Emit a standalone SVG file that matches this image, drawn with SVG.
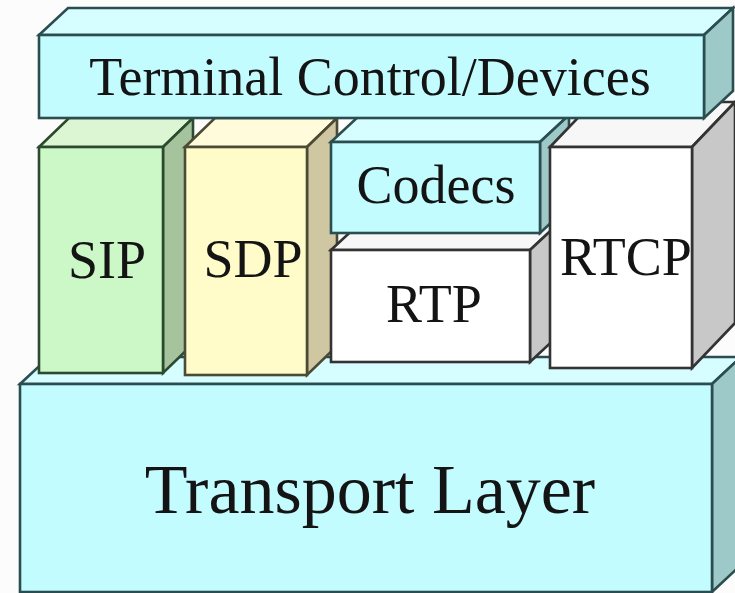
<svg xmlns="http://www.w3.org/2000/svg" width="735" height="593" viewBox="0 0 735 593">
  <style>
    .edge { stroke-width: 2.6; stroke-linejoin: miter; }
    .cyan .front { fill: #c3fcff; }
    .cyan .top { fill: #d6fdff; }
    .cyan .side { fill: #9ec9c9; }
    .cyan path, .cyan rect { stroke: #2b4d4f; }
    .green .front { fill: #ccf8c8; }
    .green .top { fill: #dcf6d4; }
    .green .side { fill: #a5c49e; }
    .green path, .green rect { stroke: #2c4a2e; }
    .yellow .front { fill: #fffcca; }
    .yellow .top { fill: #fffbdb; }
    .yellow .side { fill: #cfc6a2; }
    .yellow path, .yellow rect { stroke: #4b4a34; }
    .white .front { fill: #ffffff; }
    .white .top { fill: #f7f7f7; }
    .white .side { fill: #c8c8c8; }
    .white path, .white rect { stroke: #333333; }
    text { font-family: "Liberation Serif", "Times New Roman", serif; fill: #141414; text-anchor: middle; }
    .lbl { font-size: 54px; }
    .big { font-size: 70px; }
  </style>
  <rect width="735" height="593" fill="#fcfcfc"/>

  <!-- blocks are painted back to front: base, middle row left to right, then the top bar -->
  <g id="transport-layer" class="cyan edge">
    <path class="top" d="M20 384 L49 357 L741 357 L712 384 Z"/>
    <path class="side" d="M712 384 L741 357 L741 565 L712 592 Z"/>
    <rect class="front" x="20" y="384" width="692" height="208"/>
    <text class="big" x="370" y="513">Transport Layer</text>
  </g>

  <g id="sip" class="green edge">
    <path class="top" d="M39 147 L69 118 L193 118 L163 147 Z"/>
    <path class="side" d="M163 147 L193 118 L193 344 L163 373 Z"/>
    <rect class="front" x="39" y="147" width="124" height="226"/>
    <text class="lbl" x="107" y="278">SIP</text>
  </g>

  <g id="sdp" class="yellow edge">
    <path class="top" d="M185 147 L215 118 L337 118 L307 147 Z"/>
    <path class="side" d="M307 147 L337 118 L337 346 L307 375 Z"/>
    <rect class="front" x="185" y="147" width="122" height="228"/>
    <text class="lbl" x="253" y="277">SDP</text>
  </g>

  <g id="rtp" class="white edge">
    <path class="top" d="M331 250 L360 223 L559 223 L530 250 Z"/>
    <path class="side" d="M530 250 L559 223 L559 335 L530 362 Z"/>
    <rect class="front" x="331" y="250" width="199" height="112"/>
    <text class="lbl" x="434" y="322">RTP</text>
  </g>

  <g id="codecs" class="cyan edge">
    <path class="top" d="M331 142 L360 115 L569 115 L540 142 Z"/>
    <path class="side" d="M540 142 L569 115 L569 206 L540 233 Z"/>
    <rect class="front" x="331" y="142" width="209" height="91"/>
    <text class="lbl" x="436" y="203">Codecs</text>
  </g>

  <g id="rtcp" class="white edge">
    <path class="top" d="M550 147 L593 102 L735 102 L692 147 Z"/>
    <path class="side" d="M692 147 L735 102 L735 323 L692 368 Z"/>
    <rect class="front" x="550" y="147" width="142" height="221"/>
    <text class="lbl" x="626" y="275">RTCP</text>
  </g>

  <g id="terminal-control-devices" class="cyan edge">
    <path class="top" d="M39 35 L68 8 L733 8 L704 35 Z"/>
    <path class="side" d="M704 35 L733 8 L733 91 L704 118 Z"/>
    <rect class="front" x="39" y="35" width="665" height="83"/>
    <text class="lbl" x="370" y="95">Terminal Control/Devices</text>
  </g>

  <g id="connectors"/>
</svg>
